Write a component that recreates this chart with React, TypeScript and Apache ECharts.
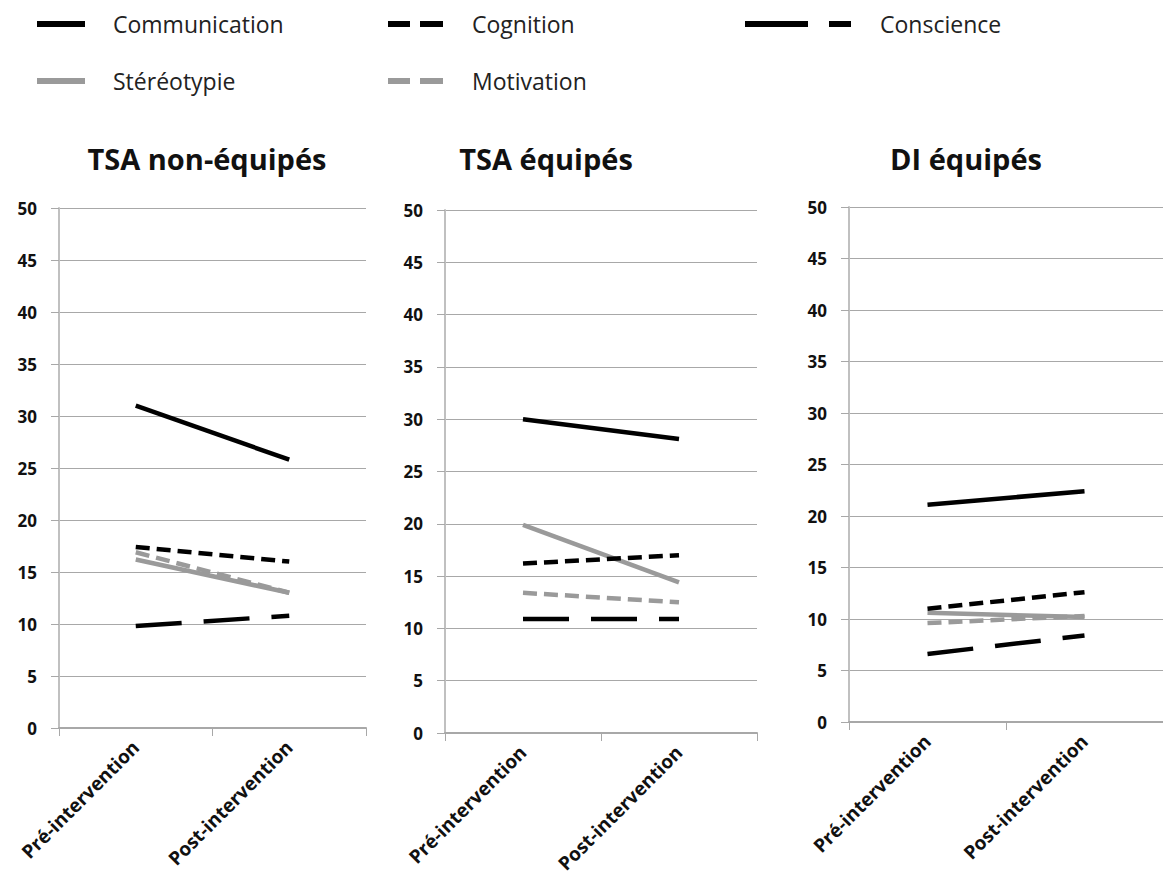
import React, { useEffect, useRef } from "react";
import * as echarts from "echarts";

const categories = ["Pré-intervention", "Post-intervention"];
const panelTitles = ["TSA non-équipés", "TSA équipés", "DI équipés"];
const seriesNames = ["Communication", "Cognition", "Conscience", "Stéréotypie", "Motivation"];

// values per panel: [pre, post]
const communication = [[31.0, 25.8], [30.0, 28.1], [21.1, 22.4]];
const cognition = [[17.4, 16.0], [16.2, 17.0], [11.0, 12.6]];
const conscience = [[9.8, 10.8], [10.9, 10.9], [6.6, 8.4]];
const stereotypie = [[16.2, 13.0], [19.9, 14.4], [10.6, 10.2]];
const motivation = [[16.9, 13.0], [13.4, 12.5], [9.6, 10.3]];

const yTicks = [0, 5, 10, 15, 20, 25, 30, 35, 40, 45, 50];

const FONT = "'Open Sans', 'Noto Sans', sans-serif";
const BLACK = "#000000";
const GRAY = "#9a9a9a";

const styles = [
  { color: BLACK, type: "solid" as any },
  { color: BLACK, type: [14, 7] as any },
  { color: BLACK, type: [46, 22] as any },
  { color: GRAY, type: "solid" as any },
  { color: GRAY, type: [14, 7] as any },
];

const grids = [
  { left: 59, top: 208, width: 307, height: 520 },
  { left: 445, top: 210, width: 312, height: 523 },
  { left: 849, top: 207, width: 320, height: 515 },
];

export default function App() {
  const ref = useRef<HTMLDivElement>(null);
  useEffect(() => {
    if (!ref.current) return;
    const chart = echarts.init(ref.current, null, { renderer: "svg" });
    const allData = [communication, cognition, conscience, stereotypie, motivation];

    const series: any[] = [];
    grids.forEach((_, gi) => {
      seriesNames.forEach((name, si) => {
        series.push({
          type: "line",
          name,
          xAxisIndex: gi,
          yAxisIndex: gi,
          data: allData[si][gi],
          showSymbol: false,
          symbol: "none",
          lineStyle: { color: styles[si].color, width: 4.5, type: styles[si].type, cap: "butt" },
          itemStyle: { color: styles[si].color },
          z: si === 3 || si === 4 ? 2 : 3,
        });
      });
    });

    const legendGraphic: any[] = [];
    const legendPos = [
      { x: 37, y: 24, tx: 113 },
      { x: 388, y: 24, tx: 472 },
      { x: 745, y: 24, tx: 880 },
      { x: 37, y: 81, tx: 113 },
      { x: 388, y: 81, tx: 472 },
    ];
    const seg = (x1: number, x2: number, y: number, color: string) => ({
      type: "line",
      shape: { x1, y1: y, x2, y2: y },
      style: { stroke: color, lineWidth: 6 },
    });
    seriesNames.forEach((name, i) => {
      const p = legendPos[i];
      const c = styles[i].color;
      if (i === 0 || i === 3) {
        legendGraphic.push(seg(p.x, p.x + 48, p.y, c));
      } else if (i === 1 || i === 4) {
        legendGraphic.push(seg(p.x, p.x + 22, p.y, c));
        legendGraphic.push(seg(p.x + 32, p.x + 55, p.y, c));
      } else {
        legendGraphic.push(seg(p.x, p.x + 63, p.y, c));
        legendGraphic.push(seg(p.x + 84, p.x + 106, p.y, c));
      }
      legendGraphic.push({
        type: "text",
        x: p.tx,
        y: p.y,
        style: { text: name, font: `23px ${FONT}`, fill: "#222", textVerticalAlign: "middle" },
      });
    });

    const titleCenters = [202, 541, 961];
    const titles = panelTitles.map((t, i) => ({
      text: t,
      left: titleCenters[i],
      top: 139,
      textAlign: "center",
      textStyle: { fontFamily: FONT, fontSize: 29, fontWeight: "bold", color: "#111" },
    }));

    chart.setOption({
      animation: false,
      backgroundColor: "#ffffff",
      title: titles,
      grid: grids.map((g) => ({ ...g, containLabel: false })),
      xAxis: grids.map((_, i) => ({
        type: "category",
        gridIndex: i,
        data: categories,
        boundaryGap: true,
        axisLine: { lineStyle: { color: "#a8a8a8", width: 2 } },
        axisTick: { show: true, length: 8, inside: false, lineStyle: { color: "#a8a8a8", width: 1 } },
        axisLabel: {
          rotate: 45,
          margin: 16,
          fontFamily: FONT,
          fontSize: 19,
          fontWeight: "bold",
          color: "#111",
        },
        splitLine: { show: false },
      })),
      yAxis: grids.map((_, i) => ({
        type: "value",
        gridIndex: i,
        min: yTicks[0],
        max: yTicks[yTicks.length - 1],
        interval: 5,
        axisLine: { show: true, lineStyle: { color: "#c0c0c0", width: 2 } },
        axisTick: { show: true, length: 8, lineStyle: { color: "#a8a8a8" } },
        axisLabel: { fontFamily: FONT, fontSize: 17, fontWeight: "bold", color: "#111", margin: 22 },
        splitLine: { show: true, lineStyle: { color: "#a8a8a8", width: 1 } },
      })),
      series,
      graphic: legendGraphic,
    });
    return () => chart.dispose();
  }, []);
  return (
    <div
      ref={ref}
      style={{ position: "fixed", left: 0, top: 0, width: 1163, height: 885, background: "#fff" }}
    />
  );
}
